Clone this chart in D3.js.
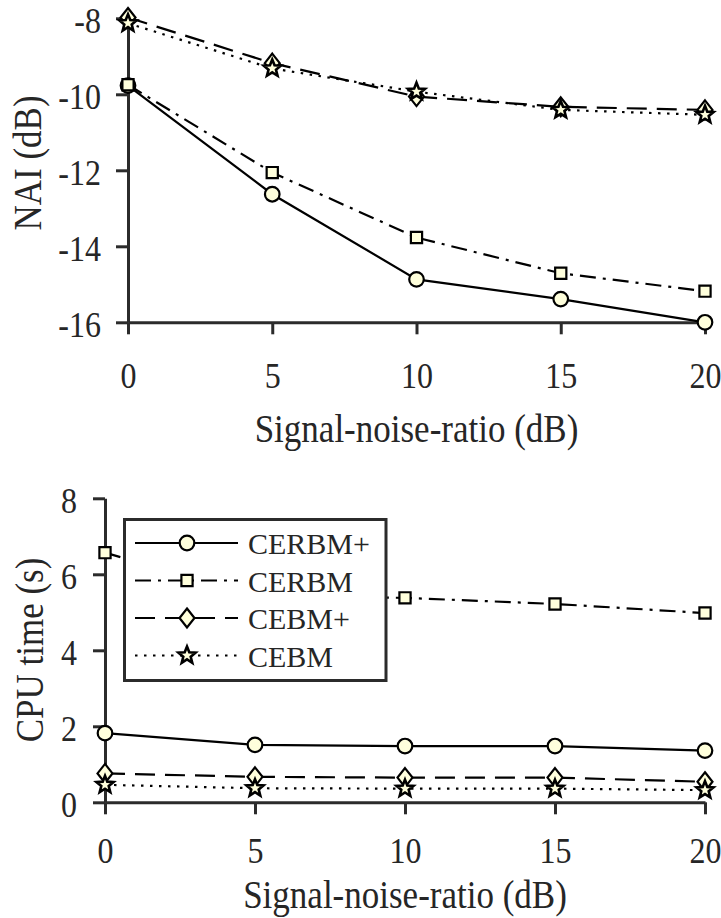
<!DOCTYPE html>
<html>
<head>
<meta charset="utf-8">
<script src="https://cdn.jsdelivr.net/npm/d3@7"></script>
<style>
  html, body { margin: 0; padding: 0; background: #fff; }
  svg { display: block; }
  text { font-family: "Liberation Serif", "Times New Roman", serif; fill: #262626; }
</style>
</head>
<body>
<svg id="chart" width="721" height="918"></svg>
<script>
// Signal-noise-ratio values on the x axis (dB)
const snr = [0, 5, 10, 15, 20];
const xTicks = [0, 5, 10, 15, 20];

// NAI (dB) per method
const naiTicks = [-16, -14, -12, -10, -8];
const naiCERBMplus = [-9.77, -12.63, -14.87, -15.39, -16.0];
const naiCERBM     = [-9.75, -12.06, -13.77, -14.71, -15.18];
const naiCEBMplus  = [-7.98, -9.18, -10.06, -10.33, -10.41];
const naiCEBM      = [-8.13, -9.32, -9.93, -10.41, -10.54];

// CPU time (s) per method
const cpuTicks = [0, 2, 4, 6, 8];
const cpuCERBMplus = [1.82, 1.51, 1.48, 1.48, 1.36];
const cpuCERBM     = [6.57, 5.43, 5.38, 5.22, 4.98];
const cpuCEBMplus  = [0.76, 0.67, 0.65, 0.65, 0.54];
const cpuCEBM      = [0.46, 0.37, 0.36, 0.36, 0.32];

const methods = ["CERBM+", "CERBM", "CEBM+", "CEBM"];

const svg = d3.select("#chart");
svg.append("rect").attr("width", 721).attr("height", 918).attr("fill", "#fff");

const AXIS_COLOR = "#2b2b2b";
const MARK_FILL = "#ffffdc";
// axis text is set tall and slightly narrow
const TICK_STRETCH = 1.12, LABEL_STRETCH = 1.15;
const TICK_FONT = 32 * TICK_STRETCH;
const LABEL_FONT = 35 * LABEL_STRETCH;
const fmt = d => String(d); // plain hyphen for negatives

// squeeze a text node horizontally so its glyphs look taller
function narrow(sel, factor) {
  sel.each(function () {
    const w = this.getComputedTextLength();
    this.setAttribute("textLength", (w / factor).toFixed(2));
    this.setAttribute("lengthAdjust", "spacingAndGlyphs");
  });
}

// Line style and marker per method
const styles = {
  "CERBM+": { dash: null,          marker: "circle" },
  "CERBM":  { dash: "16,7,3,7",    marker: "square" },
  "CEBM+":  { dash: "20,10",       marker: "diamond" },
  "CEBM":   { dash: "2.5,6.5",     marker: "star" }
};

function markerPath(type) {
  if (type === "circle") {
    const r = 7.3;
    return `M${r},0A${r},${r} 0 1,1 ${-r},0A${r},${r} 0 1,1 ${r},0Z`;
  }
  if (type === "square") {
    const h = 5.6;
    return `M${-h},${-h}H${h}V${h}H${-h}Z`;
  }
  if (type === "diamond") {
    return "M0,-9.5L7.5,0L0,9.5L-7.5,0Z";
  }
  // five-pointed star
  const pts = [];
  const ro = 9, ri = 3.9;
  for (let i = 0; i < 10; i++) {
    const r = i % 2 === 0 ? ro : ri;
    const a = -Math.PI / 2 + i * Math.PI / 5;
    pts.push([r * Math.cos(a), r * Math.sin(a)]);
  }
  return "M" + pts.map(p => p[0].toFixed(2) + "," + p[1].toFixed(2)).join("L") + "Z";
}

function drawPanel(opts) {
  const { xRange, yRange, yDomain, yTicks, yLabel, yLabelX, yLabelY, series,
          titleY, xTickPad, yTickPad } = opts;
  const x = d3.scaleLinear().domain([0, 20]).range(xRange);
  const y = d3.scaleLinear().domain(yDomain).range(yRange);
  const g = svg.append("g");

  // axes
  const xAxis = d3.axisBottom(x).tickValues(xTicks).tickFormat(fmt)
    .tickSize(12).tickSizeOuter(0).tickPadding(xTickPad);
  const yAxis = d3.axisLeft(y).tickValues(yTicks).tickFormat(fmt)
    .tickSize(12).tickSizeOuter(0).tickPadding(yTickPad);

  const gx = g.append("g").attr("transform", `translate(0,${yRange[0]})`).call(xAxis);
  const gy = g.append("g").attr("transform", `translate(${xRange[0]},0)`).call(yAxis);
  [gx, gy].forEach(a => {
    a.select(".domain").attr("stroke", AXIS_COLOR).attr("stroke-width", 3);
    a.selectAll(".tick line").attr("stroke", AXIS_COLOR).attr("stroke-width", 3);
    a.selectAll(".tick text")
      .attr("font-family", '"Liberation Serif", serif')
      .attr("font-size", TICK_FONT)
      .attr("fill", "#262626");
    narrow(a.selectAll(".tick text"), TICK_STRETCH);
  });
  gx.selectAll(".tick text").attr("dy", "0.71em");
  gy.selectAll(".tick text").attr("dy", "0.40em");

  // x axis title
  g.append("text")
    .attr("x", (xRange[0] + xRange[1]) / 2)
    .attr("y", titleY)
    .attr("text-anchor", "middle")
    .attr("font-size", LABEL_FONT)
    .text("Signal-noise-ratio (dB)")
    .call(narrow, LABEL_STRETCH);

  // y axis title
  g.append("text")
    .attr("transform", `translate(${yLabelX},${yLabelY}) rotate(-90)`)
    .attr("text-anchor", "middle")
    .attr("font-size", LABEL_FONT)
    .text(yLabel)
    .call(narrow, LABEL_STRETCH);

  const line = d3.line().x((d, i) => x(snr[i])).y(d => y(d));

  const seriesGroup = g.append("g");
  series.forEach(s => {
    const st = styles[s.name];
    seriesGroup.append("path")
      .datum(s.values)
      .attr("d", line)
      .attr("fill", "none")
      .attr("stroke", "#000")
      .attr("stroke-width", 2.2)
      .attr("stroke-dasharray", st.dash);
    seriesGroup.selectAll(null)
      .data(s.values)
      .join("path")
      .attr("transform", (d, i) => `translate(${x(snr[i])},${y(d)})`)
      .attr("d", markerPath(st.marker))
      .attr("fill", MARK_FILL)
      .attr("stroke", "#000")
      .attr("stroke-width", st.marker === "star" ? 2.6 : 2.2)
      .attr("stroke-linejoin", "miter");
  });
  return g;
}

// Top panel: NAI
drawPanel({
  xRange: [128, 705],
  yRange: [322.3, 18.3],
  yDomain: [-16, -8],
  yTicks: naiTicks,
  yLabel: "NAI (dB)",
  yLabelX: 41,
  yLabelY: 163,
  titleY: 442,
  xTickPad: 28,
  yTickPad: 15,
  series: [
    { name: "CERBM+", values: naiCERBMplus },
    { name: "CERBM",  values: naiCERBM },
    { name: "CEBM+",  values: naiCEBMplus },
    { name: "CEBM",   values: naiCEBM }
  ]
});

// Bottom panel: CPU time
drawPanel({
  xRange: [105, 705],
  yRange: [802.3, 498.3],
  yDomain: [0, 8],
  yTicks: cpuTicks,
  yLabel: "CPU time (s)",
  yLabelX: 43,
  yLabelY: 650,
  titleY: 908,
  xTickPad: 23,
  yTickPad: 16,
  series: [
    { name: "CERBM+", values: cpuCERBMplus },
    { name: "CERBM",  values: cpuCERBM },
    { name: "CEBM+",  values: cpuCEBMplus },
    { name: "CEBM",   values: cpuCEBM }
  ]
});

// Legend inside the CPU time panel
const legend = svg.append("g");
legend.append("rect")
  .attr("x", 124.5).attr("y", 519.5)
  .attr("width", 261.5).attr("height", 161)
  .attr("fill", "#fff")
  .attr("stroke", AXIS_COLOR)
  .attr("stroke-width", 3);

const rowY = d3.scalePoint().domain(methods).range([543, 655.5]);
methods.forEach(m => {
  const st = styles[m];
  const yy = rowY(m);
  legend.append("line")
    .attr("x1", 135).attr("x2", 238)
    .attr("y1", yy).attr("y2", yy)
    .attr("stroke", "#000").attr("stroke-width", 2.2)
    .attr("stroke-dasharray", st.dash);
  legend.append("path")
    .attr("transform", `translate(187,${yy})`)
    .attr("d", markerPath(st.marker))
    .attr("fill", MARK_FILL)
    .attr("stroke", "#000")
    .attr("stroke-width", st.marker === "star" ? 2.6 : 2.2);
  legend.append("text")
    .attr("x", 248).attr("y", yy + 11)
    .attr("font-size", 30)
    .text(m);
});
</script>
</body>
</html>
